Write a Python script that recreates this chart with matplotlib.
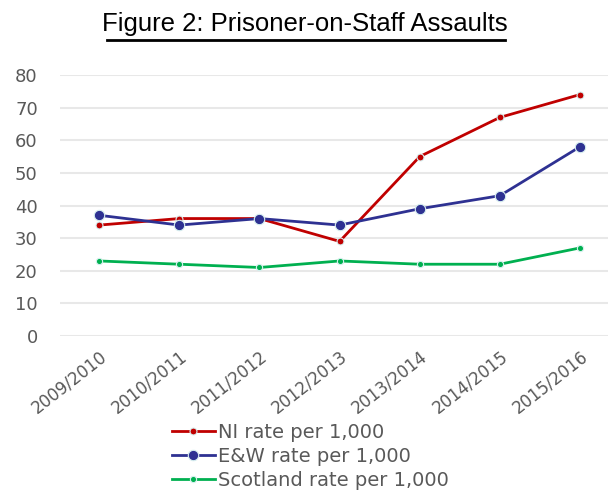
import matplotlib
matplotlib.use("Agg")
import matplotlib.pyplot as plt

years = ["2009/2010", "2010/2011", "2011/2012", "2012/2013", "2013/2014", "2014/2015", "2015/2016"]
ni = [34, 36, 36, 29, 55, 67, 74]
ew = [37, 34, 36, 34, 39, 43, 58]
scot = [23, 22, 21, 23, 22, 22, 27]
yticks = [0, 10, 20, 30, 40, 50, 60, 70, 80]

plt.rcParams['font.family'] = ['Liberation Sans', 'DejaVu Sans']

fig = plt.figure(figsize=(6.1, 4.9), dpi=100)
ax = fig.add_axes([60/610, 1-336/490, 548/610, (336-75)/490])

x = list(range(len(years)))
ax.plot(x, ni, color="#c00000", lw=2, marker="o", ms=5, mec="#d8f0f0", mew=0.8,
        label="NI rate per 1,000", clip_on=False, zorder=3)
ax.plot(x, ew, color="#2e3192", lw=2, marker="o", ms=7.5, mec="#d8f0f0", mew=0.8,
        label="E&W rate per 1,000", clip_on=False, zorder=3)
ax.plot(x, scot, color="#00b050", lw=2, marker="o", ms=4.5, mec="#d8f0f0", mew=0.8,
        label="Scotland rate per 1,000", clip_on=False, zorder=3)

ax.set_xlim(-0.49, 6.35)
ax.set_ylim(0, 80)
ax.set_yticks(yticks)
ax.set_yticklabels([str(v) for v in yticks], family=['DejaVu Sans'], fontsize=13)
ax.set_xticks(x)
ax.set_xticklabels(years, rotation=38, ha="right", rotation_mode="anchor",
                   family=['DejaVu Sans'], fontsize=12)
ax.tick_params(axis="both", length=0, colors="#595959")
ax.tick_params(axis="y", pad=16)
ax.tick_params(axis="x", pad=8)
ax.grid(axis="y", color="#e8e8e8", lw=1.5)
ax.set_axisbelow(True)
for s in ax.spines.values():
    s.set_visible(False)

fig.legend(loc="upper left", bbox_to_anchor=(172/610, 1-423/490), frameon=False,
           prop={'family': ['DejaVu Sans'], 'size': 14}, labelcolor="#595959",
           handlelength=2.2, handletextpad=0.15,
           labelspacing=0.25, borderaxespad=0, borderpad=0)

fig.text(0.5, 1-24/490, "Figure 2: Prisoner-on-Staff Assaults", ha="center", va="center",
         fontsize=18.5, color="black")
# underline
fig.add_artist(plt.Line2D([107/610, 505/610], [1-40.5/490, 1-40.5/490], color="black", lw=2))

fig.savefig("out.png", dpi=100)
